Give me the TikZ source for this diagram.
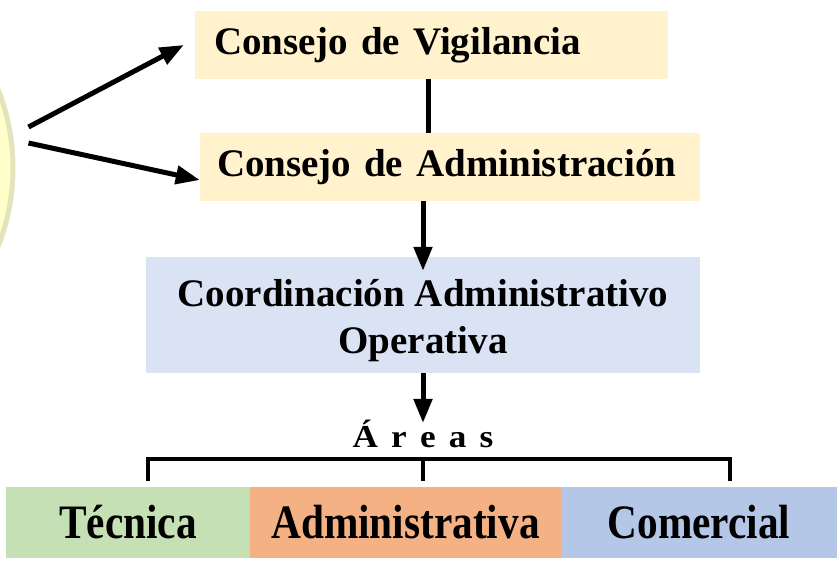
\documentclass[tikz,border=0pt]{standalone}
\usepackage{fontspec}
\setmainfont{Liberation Serif}
\usetikzlibrary{arrows.meta}

\definecolor{consejo}{HTML}{FFF2CC}
\definecolor{coordfill}{HTML}{DAE3F3}
\definecolor{tecnica}{HTML}{C5E0B4}
\definecolor{adminfill}{HTML}{F4B183}
\definecolor{comercial}{HTML}{B4C7E7}
\definecolor{asamblea}{HTML}{FFFFCC}
\definecolor{asambleaborde}{HTML}{E4E4BC}

\newcommand{\angosto}[1]{\scalebox{0.86}[1]{#1}}
\newcommand{\ancho}[1]{\scalebox{1.1}[1]{#1}}

\tikzset{
  caja/.style={rectangle, inner sep=0pt, font=\fontsize{39}{47}\selectfont\bfseries},
  areabox/.style={rectangle, inner sep=0pt, minimum height=71pt, font=\fontsize{48}{50}\selectfont\bfseries},
  titulo/.style={rectangle, inner sep=0pt, font=\fontsize{32}{34}\selectfont\bfseries},
  flecha/.style={line width=5pt, -{Triangle[length=24pt,width=18pt]}},
  linea/.style={line width=5pt},
  corchete/.style={line width=4.5pt}
}

\begin{document}
\begin{tikzpicture}[x=1pt,y=-1pt]
\path[use as bounding box, clip] (0,0) rectangle (837,563);

%% asamblea, cut at the left edge
\node[circle, inner sep=0pt, fill=asamblea, draw=asambleaborde, line width=5pt, minimum size=426pt] (asamblea) at (-200,168) {};

%% consejos
\node[caja, fill=consejo, minimum width=473pt, minimum height=68pt, text width=435pt, inner xsep=19pt, align=left] (vig) at (431.5,45) {Consejo de Vigilancia};
\node[caja, fill=consejo, minimum width=500pt, minimum height=68pt, text width=466pt, inner xsep=17pt, align=left] (adm) at (450,167) {Consejo de Administración};

%% coordinacion
\node[caja, fill=coordfill, minimum width=554pt, minimum height=116pt, align=center] (coord) at (423,315) {\rule{0pt}{38pt}Coordinación Administrativo\\Operativa};

%% areas
\node[titulo] (areas) at (423,434) {\ancho{Á\hspace{12pt}r\hspace{12pt}e\hspace{12pt}a\hspace{12pt}s}};
\node[areabox, fill=tecnica, minimum width=244pt] (tec) at (128,522.5) {\angosto{Técnica}};
\node[areabox, fill=adminfill, minimum width=311pt] (admin) at (405.5,522.5) {\angosto{Administrativa}};
\node[areabox, fill=comercial, minimum width=276pt] (com) at (699,522.5) {\angosto{Comercial}};

%%% edges
\coordinate (eje) at (428,0);
\coordinate (bizq) at (148,459);
\coordinate (bder) at (730,459);

\draw[flecha] ([shift={(13pt,41pt)}]asamblea.east) -- ([xshift=-11pt]vig.west);
\draw[flecha] ([shift={(13pt,25pt)}]asamblea.east) -- ([yshift=-13pt]adm.west);
\draw[linea] (vig.south -| eje) -- (adm.north -| eje);
\draw[flecha] (adm.south -| coord.north) -- ([yshift=-14pt]coord.north);
\draw[flecha] (coord.south) -- ([yshift=-3pt]areas.north);

\draw[corchete] ([yshift=6pt]tec.north -| bizq) -- (bizq) -- (bder) -- ([yshift=6pt]com.north -| bder);
\draw[corchete] (coord.south |- bizq) -- ([yshift=6pt]admin.north -| coord.south);

\end{tikzpicture}
\end{document}
